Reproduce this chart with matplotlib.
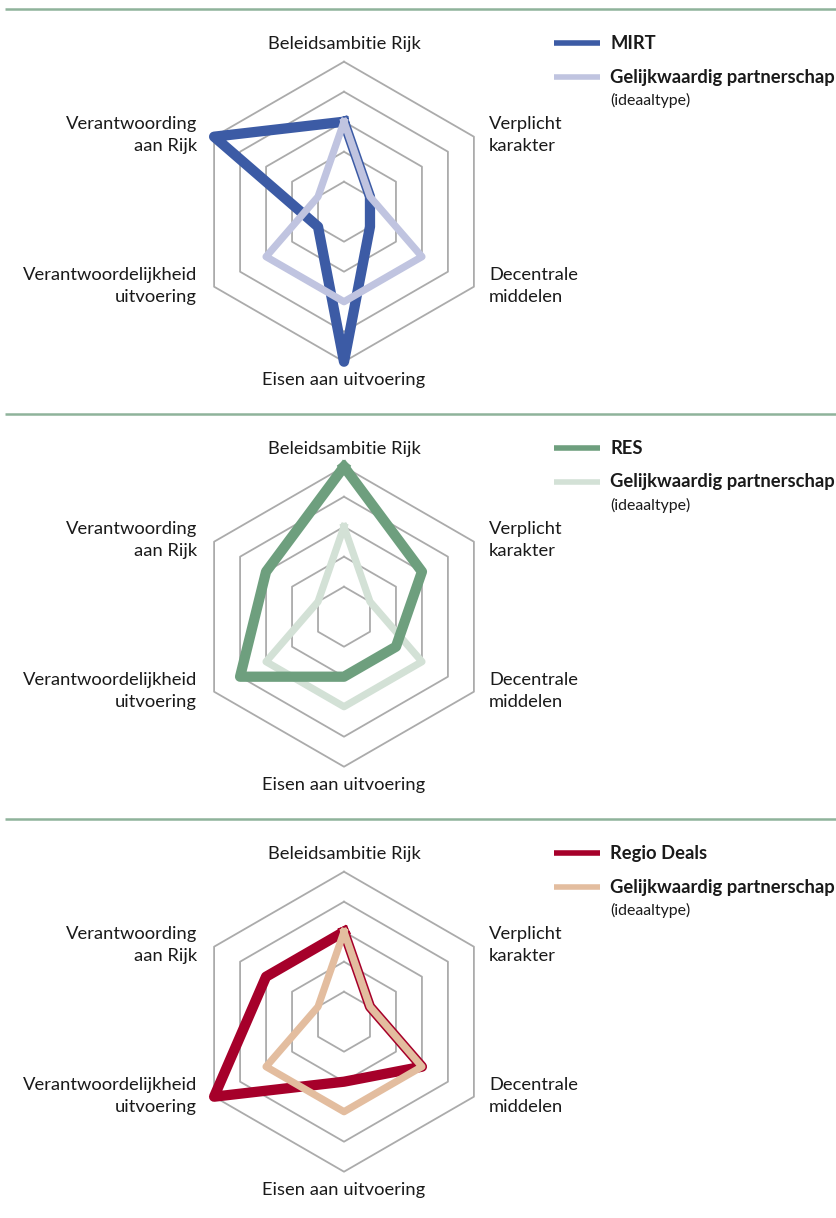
import numpy as np
import matplotlib
matplotlib.use("Agg")
import matplotlib.pyplot as plt

plt.rcParams['font.family'] = ['Lato', 'DejaVu Sans']

# axes of the radar, clockwise from the top
categories = ["Beleidsambitie Rijk", "Verplicht\nkarakter", "Decentrale\nmiddelen",
              "Eisen aan uitvoering", "Verantwoordelijkheid\nuitvoering", "Verantwoording\naan Rijk"]

# scores per instrument (scale 0-5)
mirt = [3, 1, 1, 5, 1, 5]
res = [5, 3, 2, 2, 4, 3]
regio_deals = [3, 1, 3, 2, 5, 3]
ideal = [3, 1, 3, 3, 3, 1]   # gelijkwaardig partnerschap (ideaaltype)

panels = [
    ("MIRT", mirt, "#3c5ba5", "#c0c4e0", "ideal_on_top"),
    ("RES", res, "#6e9f7e", "#d3e1d6", "main_on_top"),
    ("Regio Deals", regio_deals, "#a6002a", "#e3bd9f", "ideal_on_top"),
]
ideal_label = "Gelijkwaardig partnerschap"
ideal_sub = "(ideaaltype)"

W, H = 836, 1218
PX = 30.0          # pixels per scale unit
band = 405.0       # pixel height of one panel
top0 = 9.3         # first separator line (px from top)
cx = 344.0         # x of radar centre (px)
cy_off = 202.4     # radar centre below separator (px)

fig = plt.figure(figsize=(W / 100, H / 100), dpi=100)

angles = np.arange(len(categories)) * np.pi / 3
text_col = "#1a1a1a"
grid_col = "#ababab"

for i, (name, vals, dark, light, order) in enumerate(panels):
    top = top0 + band * i
    ax = fig.add_axes([0, 1 - (top + band) / H, 1, band / H])
    ax.set_xlim(-cx / PX, (W - cx) / PX)
    ax.set_ylim(-(band - cy_off) / PX, cy_off / PX)
    ax.axis("off")

    # separator line
    ax.plot([(5 - cx) / PX, (W - cx) / PX], [cy_off / PX] * 2, color="#8fb39b",
            lw=1.8, clip_on=False, solid_capstyle="butt")

    # hexagonal grid
    ring_a = np.append(angles, angles[0])
    for r in range(1, 6):
        ax.plot(r * np.sin(ring_a), r * np.cos(ring_a), color=grid_col, lw=1.3, zorder=1)

    def draw(v, color, lw, z):
        v = np.append(v, v[0])
        ax.plot(v * np.sin(ring_a), v * np.cos(ring_a), color=color, lw=lw,
                solid_joinstyle="round", zorder=z)

    if order == "ideal_on_top":
        draw(np.array(vals), dark, 7.4, 3)
        draw(np.array(ideal), light, 5.2, 4)
    else:
        draw(np.array(ideal), light, 5.2, 3)
        draw(np.array(vals), dark, 7.4, 4)

    # category labels
    fs = 13.2
    ls = 1.5
    ax.text(0, 5.6, categories[0], ha="center", va="center", fontsize=fs, color=text_col)
    ax.text(0, -5.6, categories[3], ha="center", va="center", fontsize=fs, color=text_col)
    ax.text(4.83, 2.56, categories[1], ha="left", va="center", fontsize=fs,
            color=text_col, linespacing=ls)
    ax.text(4.83, -2.48, categories[2], ha="left", va="center", fontsize=fs,
            color=text_col, linespacing=ls)
    ax.text(-4.9, 2.56, categories[5], ha="right", va="center", fontsize=fs,
            color=text_col, linespacing=ls)
    ax.text(-4.9, -2.48, categories[4], ha="right", va="center", fontsize=fs,
            color=text_col, linespacing=ls)

    # legend
    ax.plot([7.0, 8.53], [5.62, 5.62], color=dark, lw=4, solid_capstyle="butt", clip_on=False)
    ax.plot([7.0, 8.53], [4.49, 4.49], color=light, lw=4, solid_capstyle="butt", clip_on=False)
    ax.text(8.87, 5.62, name, ha="left", va="center", fontsize=13.2, fontweight="bold",
            color=text_col)
    ax.text(8.87, 4.49, ideal_label, ha="left", va="center", fontsize=13.2,
            fontweight="bold", color=text_col)
    ax.text(8.87, 3.72, ideal_sub, ha="left", va="center", fontsize=11.4, color=text_col)

fig.savefig("out.png", dpi=100)
